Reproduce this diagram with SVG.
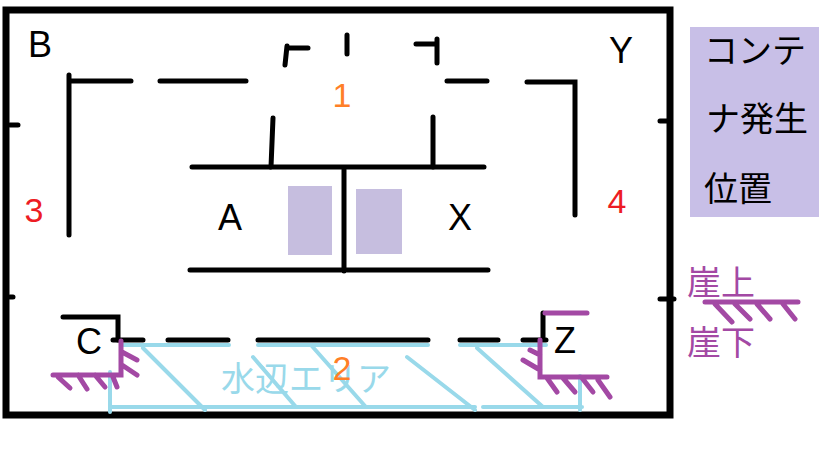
<svg xmlns="http://www.w3.org/2000/svg" width="819" height="460" viewBox="0 0 819 460">
<style>
.wall{stroke:#000;stroke-width:5;fill:none;stroke-linecap:round}
.frame{stroke:#000;stroke-width:7;fill:none}
.cliff{stroke:#A349A4;stroke-width:5;fill:none;stroke-linecap:round}
.water{stroke:#99D9EA;stroke-width:4;fill:none;stroke-linecap:round}
.lat{font-family:"Liberation Sans","DejaVu Sans",sans-serif;font-size:36px;fill:#000;text-anchor:middle}
.num{font-family:"Liberation Sans","DejaVu Sans",sans-serif;font-size:34px;text-anchor:middle}
.jp{font-family:"Noto Sans CJK JP","Noto Sans",sans-serif;font-size:34px}
.box{fill:#C6BEDF}
</style>
<rect width="819" height="460" fill="#fff"/>
<g id="frame">
<rect class="frame" x="6" y="10" width="664" height="405"/>
<path class="wall" d="M10 125H18M10 297H13M660 121H667M660 299H674" stroke-linecap="butt"/>
</g>
<g id="walls">
<path class="wall" d="M69 75V235M69 81H131M160 81H246"/>
<path class="wall" d="M287 46L285 65M287 48H308"/>
<path class="wall" d="M347 35V54"/>
<path class="wall" d="M416 44H437M437 39V63"/>
<path class="wall" d="M447 81H487M527 82H575V215"/>
<path class="wall" d="M273 118L271 167M433 117V167"/>
<path class="wall" d="M192 167H484M344 170V271M190 270H488"/>
<path class="wall" d="M63 317H118V340"/>
<path class="wall" d="M113 340H143M168 340H228M258 340H428M460 340H498M523 340H546"/>
<path class="wall" d="M543 313V339"/>
</g>
<g id="containers">
<rect class="box" x="288" y="186" width="44" height="69"/>
<rect class="box" x="356" y="189" width="46" height="65"/>
</g>
<g id="water-area">
<path class="water" d="M121 345H229M258 345H428M460 345H546"/>
<path class="water" d="M110 407H475M483 407H582M110 372V412M580 376V410"/>
<path class="water" d="M143 348L205 410M253 357L296 407M311 345L365 406M407 357L475 410M477 348L543 407"/>
<text class="jp" x="306" y="391" fill="#99D9EA" text-anchor="middle">水辺エリア</text>
</g>
<g id="cliffs">
<path class="cliff" d="M121 341V375H53M58 377L70 388M78 375L87 389M95 375L105 387M113 377L117 387M122 352L137 360M122 365L137 375"/>
<path class="cliff" d="M545 313H587M540 340V377H607M547 378L557 392M563 378L575 392M582 378L593 392M598 380L610 397M523 360L540 370M530 350L540 355"/>
</g>
<g id="labels">
<text class="lat" x="40" y="57">B</text>
<text class="lat" x="621" y="63">Y</text>
<text class="lat" x="230" y="230">A</text>
<text class="lat" x="460" y="230">X</text>
<text class="lat" x="89" y="354">C</text>
<text class="lat" x="565" y="353">Z</text>
<text class="num" x="342" y="107" fill="#FF7F27">1</text>
<text class="num" x="342" y="380" fill="#FF7F27">2</text>
<text class="num" x="34" y="222" fill="#ED1C24">3</text>
<text class="num" x="617" y="213" fill="#ED1C24">4</text>
</g>
<g id="legend-container">
<rect x="690" y="27" width="129" height="190" fill="#C8BFE7"/>
<text class="jp" x="704" y="63" fill="#000">コンテ</text>
<text class="jp" x="706" y="131" fill="#000">ナ発生</text>
<text class="jp" x="704" y="201" fill="#000">位置</text>
</g>
<g id="legend-cliff">
<text class="jp" x="687" y="295" fill="#A349A4">崖上</text>
<text class="jp" x="687" y="355" fill="#A349A4">崖下</text>
<path class="cliff" d="M705 302H798M715 304L732 322M735 304L750 319M757 304L770 319M783 304L795 319"/>
</g>
</svg>
